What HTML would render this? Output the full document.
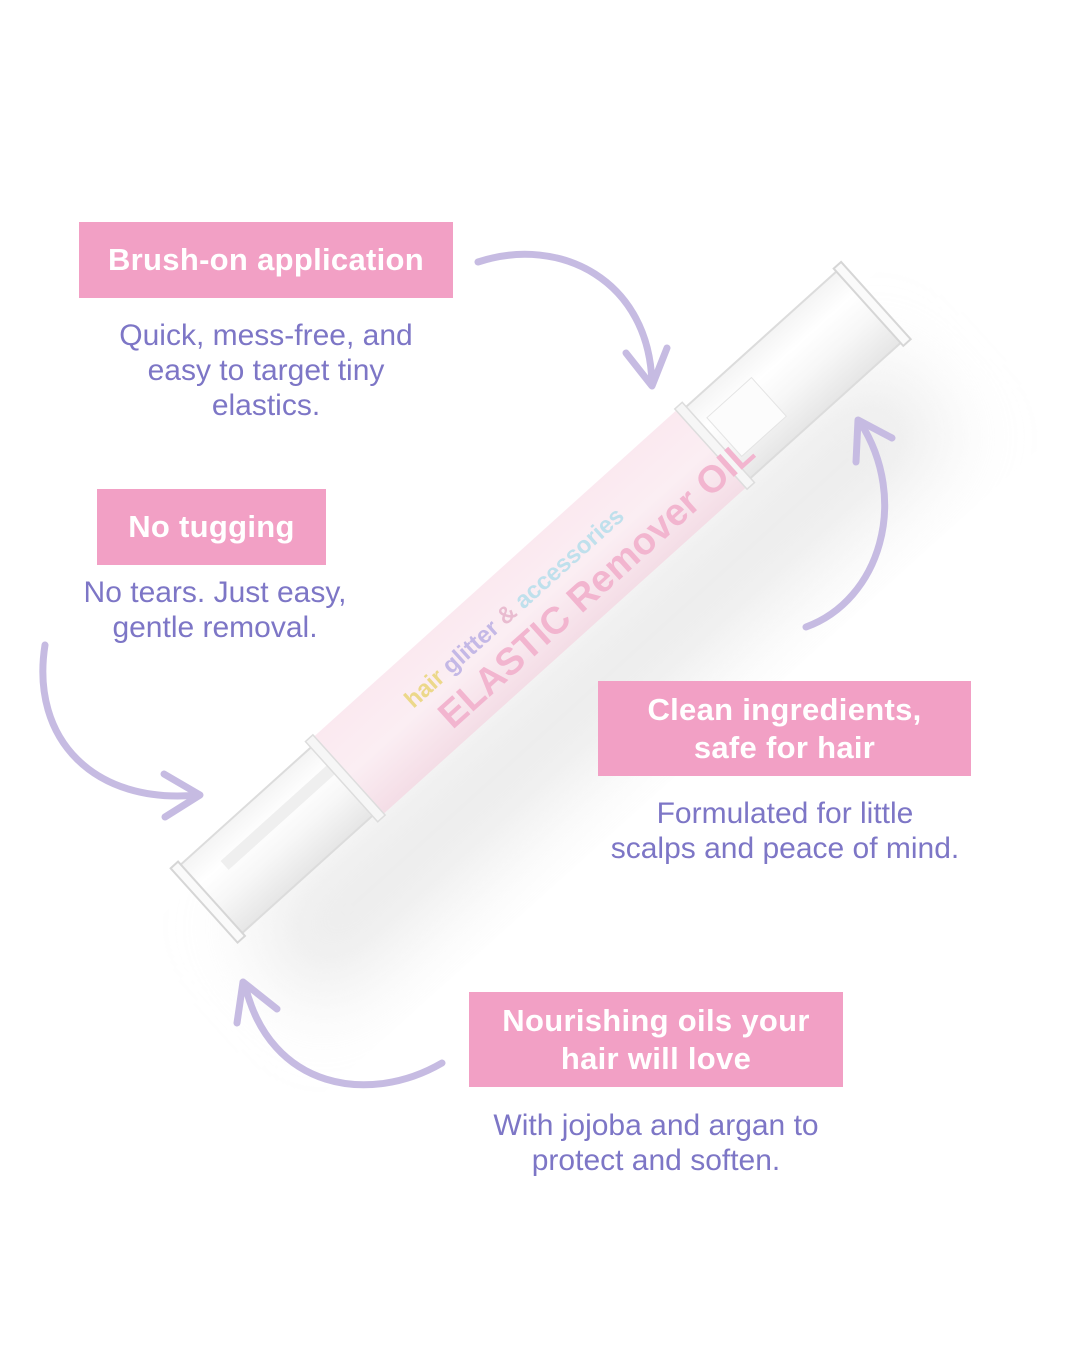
<!DOCTYPE html>
<html><head><meta charset="utf-8"><style>
html,body{margin:0;padding:0;background:#fff;}
body{width:1080px;height:1350px;position:relative;overflow:hidden;font-family:"Liberation Sans",sans-serif;}
.tag{position:absolute;background:#f2a0c5;color:#fff;font-weight:bold;font-size:31px;line-height:38px;text-align:center;display:flex;align-items:center;justify-content:center;letter-spacing:0.3px;}
.body{position:absolute;color:#7d76c6;font-size:30px;line-height:35px;text-align:center;}
svg{position:absolute;left:0;top:0;}
</style></head><body>
<svg width="1080" height="1350" viewBox="0 0 1080 1350">
<defs>
<filter id="bl" x="-50%" y="-50%" width="200%" height="200%"><feGaussianBlur stdDeviation="40"/></filter>
<linearGradient id="lab" x1="0" y1="0" x2="0" y2="1"><stop offset="0" stop-color="#fbe9f0"/><stop offset="0.5" stop-color="#fbeef3"/><stop offset="1" stop-color="#f4dde6"/></linearGradient>
<linearGradient id="cap" x1="0" y1="0" x2="0" y2="1"><stop offset="0" stop-color="#f4f4f4"/><stop offset="0.3" stop-color="#fff"/><stop offset="0.6" stop-color="#f7f7f7"/><stop offset="1" stop-color="#e6e6e6"/></linearGradient>
</defs>
<g transform="translate(580,660) rotate(-42)">
<rect x="-430" y="-30" width="860" height="120" fill="#d8d8d8" opacity="0.5" filter="url(#bl)"/>
</g>
<g transform="translate(540,603) rotate(-42)">
<rect x="-450" y="-46" width="192" height="92" fill="url(#cap)" stroke="#dcdcdc" stroke-width="2"/>
<rect x="-452" y="-50" width="10" height="100" fill="#fafafa" stroke="#d6d6d6" stroke-width="2"/>
<rect x="-410" y="-22" width="150" height="12" fill="#efefef"/>
<rect x="235" y="-48" width="215" height="96" fill="url(#cap)" stroke="#dcdcdc" stroke-width="2"/>
<rect x="442" y="-52" width="10" height="104" fill="#fafafa" stroke="#d6d6d6" stroke-width="2"/>
<rect x="248" y="-26" width="60" height="52" fill="#fcfcfc" stroke="#e4e4e4"/>
<rect x="-260" y="-52" width="495" height="104" fill="url(#lab)"/>
<rect x="-267" y="-54" width="10" height="108" fill="#f6f6f6" stroke="#ddd" stroke-width="1.5"/>
<rect x="230" y="-54" width="10" height="108" fill="#f6f6f6" stroke="#ddd" stroke-width="1.5"/>
<text x="-165" y="-6" font-family="Liberation Sans,sans-serif" font-weight="bold" font-size="24"><tspan fill="#ecd88a">hair</tspan><tspan fill="#c4b8e6"> glitter</tspan><tspan fill="#e9bcd0"> &amp;</tspan><tspan fill="#bfe0ec"> accessories</tspan></text>
<text x="-150" y="36" font-family="Liberation Sans,sans-serif" font-weight="bold" font-size="38" fill="#f2b5cf">ELASTIC Remover OIL</text>
</g>
<g fill="none" stroke="#c6bbe2" stroke-width="7" stroke-linecap="round" stroke-linejoin="round">
<path d="M478 262 C560 235 650 280 652 385"/>
<path d="M626 353 L652 386 L667 348"/>
<path d="M806 627 C880 600 910 500 860 422"/>
<path d="M856 462 L858 420 L892 438"/>
<path d="M45 645 C30 740 95 805 198 795"/>
<path d="M164 774 L200 795 L165 817"/>
<path d="M442 1063 C370 1105 270 1090 245 985"/>
<path d="M237 1023 L243 982 L277 1009"/>
</g>
</svg>
<div class="tag" style="left:79px;top:222px;width:374px;height:76px;">Brush-on application</div>
<div class="body" style="left:80px;top:318px;width:372px;">Quick, mess-free, and<br>easy to target tiny<br>elastics.</div>
<div class="tag" style="left:97px;top:489px;width:229px;height:76px;">No tugging</div>
<div class="body" style="left:40px;top:575px;width:350px;">No tears. Just easy,<br>gentle removal.</div>
<div class="tag" style="left:598px;top:681px;width:373px;height:95px;">Clean ingredients,<br>safe for hair</div>
<div class="body" style="left:580px;top:796px;width:410px;">Formulated for little<br>scalps and peace of mind.</div>
<div class="tag" style="left:469px;top:992px;width:374px;height:95px;">Nourishing oils your<br>hair will love</div>
<div class="body" style="left:450px;top:1108px;width:412px;">With jojoba and argan to<br>protect and soften.</div>
</body></html>
